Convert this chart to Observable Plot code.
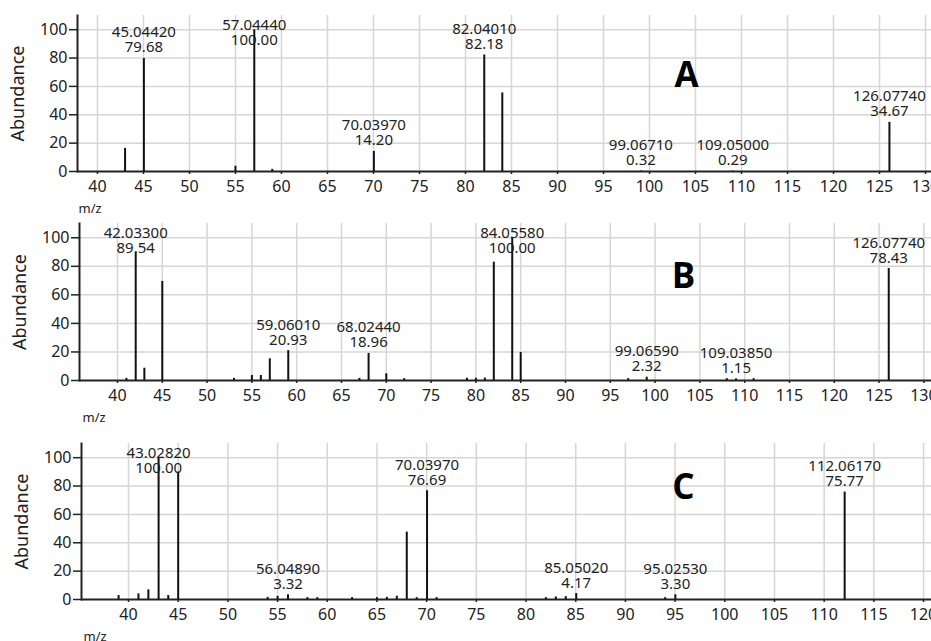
<!DOCTYPE html>
<html><head><meta charset="utf-8">
<script src="https://cdn.jsdelivr.net/npm/d3@7"></script>
<script src="https://cdn.jsdelivr.net/npm/@observablehq/plot@0.6"></script>
<style>
html,body{margin:0;padding:0;background:#fff;}
body{width:931px;height:641px;overflow:hidden;font-family:"Noto Sans",sans-serif;}
#chart > svg{display:block;overflow:visible;}
</style></head>
<body><div id="chart"></div>
<script>
// ---- Panel A ----
const peaksA_mz = [43, 45.0442, 55, 57.0444, 59, 70.0397, 82.0401, 84, 99.0671, 109.05, 126.0774];
const peaksA_ab = [16.3, 79.68, 3.7, 100, 1.5, 14.20, 82.18, 55.4, 0.32, 0.29, 34.67];
const labelsA_mz = [45.0442, 57.0444, 70.0397, 82.0401, 99.0671, 109.05, 126.0774];
const labelsA_ab = [79.68, 100.00, 14.20, 82.18, 0.32, 0.29, 34.67];

// ---- Panel B ----
const peaksB_mz = [41, 42.033, 43, 45, 53, 55, 56, 57, 59.0601, 67, 68.0244, 70, 72, 79, 80, 81, 82, 84.0558, 85, 97, 99.0659, 108, 109.0385, 111, 126.0774];
const peaksB_ab = [1.5, 89.54, 8.6, 69.4, 1.5, 3.5, 3.5, 15.2, 20.93, 1.5, 18.96, 4.7, 1.3, 1.6, 1.6, 1.7, 82.9, 100, 19.6, 1.3, 2.32, 1.3, 1.15, 1.3, 78.43];
const labelsB_mz = [42.033, 59.0601, 68.0244, 84.0558, 99.0659, 109.0385, 126.0774];
const labelsB_ab = [89.54, 20.93, 18.96, 100.00, 2.32, 1.15, 78.43];

// ---- Panel C ----
const peaksC_mz = [39, 41, 42, 43.0282, 44, 45, 54, 55, 56.0489, 58, 59, 62.5, 65, 66, 67, 68, 69, 70.0397, 71, 82, 83, 84, 85.0502, 94, 95.0253, 112.0617];
const peaksC_ab = [2.8, 4.0, 6.8, 100, 2.8, 89.8, 1.5, 2.2, 3.32, 1.3, 1.3, 1.3, 1.3, 1.5, 2.3, 47.5, 1.3, 76.69, 1.3, 1.3, 1.8, 2.0, 4.17, 1.3, 3.30, 75.77];
const labelsC_mz = [43.0282, 56.0489, 70.0397, 85.0502, 95.0253, 112.0617];
const labelsC_ab = [100.00, 3.32, 76.69, 4.17, 3.30, 75.77];

const yTicks = [0, 20, 40, 60, 80, 100];
const xTicksAB = d3.range(40, 131, 5);
const xTicksC = d3.range(40, 121, 5);
const panelLetters = ["A", "B", "C"];

const panels = [
  {mz: peaksA_mz, ab: peaksA_ab, lmz: labelsA_mz, lab: labelsA_ab, letter: panelLetters[0],
   height: 210, top: 15, bottom: 39, left: 77, xDomain: [37.83, 130.65], xTicks: xTicksAB,
   letterDx: 609, letterDy: 60, mzDx: 1},
  {mz: peaksB_mz, ab: peaksB_ab, lmz: labelsB_mz, lab: labelsB_ab, letter: panelLetters[1],
   height: 210, top: 13, bottom: 40, left: 79, xDomain: [35.76, 130.85], xTicks: xTicksAB,
   letterDx: 604, letterDy: 53, mzDx: 3},
  {mz: peaksC_mz, ab: peaksC_ab, lmz: labelsC_mz, lab: labelsC_ab, letter: panelLetters[2],
   height: 221, top: 23, bottom: 42, left: 81, xDomain: [35.27, 120.8], xTicks: xTicksC,
   letterDx: 602, letterDy: 44, mzDx: 2}
];

const container = document.getElementById("chart");
for (const p of panels) {
  const peaks = p.mz.map((m, i) => ({mz: m, ab: p.ab[i]}));
  const labels = p.lmz.map((m, i) => ({mz: m, ab: p.lab[i]}));
  const chart = Plot.plot({
    width: 931, height: p.height,
    marginLeft: p.left, marginRight: 0, marginTop: p.top, marginBottom: p.bottom,
    style: {fontFamily: "'Noto Sans', sans-serif", fontSize: "16px", color: "#222", background: "transparent", overflow: "visible"},
    x: {domain: p.xDomain, label: null},
    y: {domain: [0, 110], label: null},
    marks: [
      Plot.gridX(p.xTicks, {stroke: "#d6d6d6", strokeOpacity: 1, strokeWidth: 1.5}),
      Plot.gridY(yTicks.slice(1), {stroke: "#d6d6d6", strokeOpacity: 1, strokeWidth: 1.5}),
      Plot.axisX({ticks: p.xTicks, tickSize: 3, tickPadding: 6, label: null, fontSize: 16, strokeWidth: 1.5}),
      Plot.axisY({ticks: yTicks, tickSize: 8, tickPadding: 2, label: null, fontSize: 16, strokeWidth: 1.5}),
      Plot.frame({anchor: "left", stroke: "#222", strokeWidth: 2}),
      Plot.ruleY([0], {stroke: "#222", strokeWidth: 2}),
      Plot.ruleX(peaks, {x: "mz", y1: 0, y2: "ab", stroke: "#111", strokeWidth: 2}),
      Plot.text(labels, {x: "mz", y: d => Math.min(d.ab, 85),
        text: d => `${d.mz.toFixed(5)}\n${d.ab.toFixed(2)}`,
        lineAnchor: "bottom", lineHeight: 1.0, dy: -6, fontSize: 15, fill: "#222"}),
      Plot.text(["Abundance"], {frameAnchor: "left", textAnchor: "middle", lineAnchor: "middle",
        rotate: -90, dx: -59, fontSize: 18, fill: "#222"}),
      Plot.text(["m/z"], {frameAnchor: "bottom-left", textAnchor: "start", lineAnchor: "middle",
        dx: p.mzDx, dy: 37, fontSize: 13, fill: "#222"}),
      Plot.text([p.letter], {frameAnchor: "top-left", textAnchor: "middle", lineAnchor: "middle",
        dx: p.letterDx, dy: p.letterDy, fontSize: 35,
        fontWeight: "bold", fontFamily: "'Open Sans', sans-serif", fill: "#000"})
    ]
  });
  container.appendChild(chart);
}
</script>
</body></html>
